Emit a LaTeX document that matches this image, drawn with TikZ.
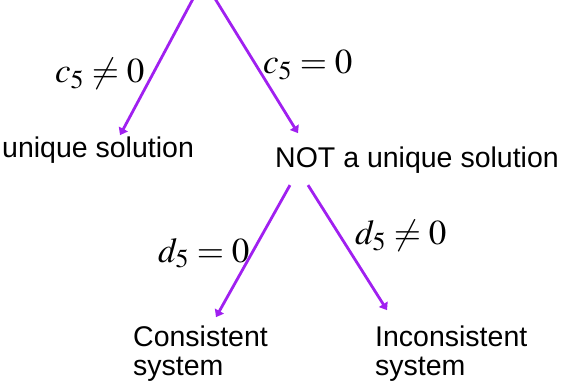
\documentclass[tikz,border=0pt]{standalone}
\usepackage{mathptmx}
\usepackage[no-math]{fontspec}
\setmainfont{Liberation Sans}
\usetikzlibrary{arrows.meta}

\definecolor{arrowviolet}{RGB}{160,32,240}

\tikzset{
  branch/.style={draw=arrowviolet, line width=2.8pt, -{Triangle[width=10pt,length=7pt]}},
  outcome/.style={inner sep=0pt, anchor=base west, align=left, font=\fontsize{28.5}{29}\selectfont},
  cond/.style={inner sep=0pt, anchor=base west, font=\fontsize{35}{37}\selectfont}
}

\begin{document}
\begin{tikzpicture}[x=1pt,y=-1pt]

\useasboundingbox (0,0) rectangle (563,385);

\coordinate (topL) at (194,-3);
\coordinate (topR) at (214,-3);

\node[outcome] (uniq) at (2,158) {unique solution};
\node[outcome] (notuniq) at (275,168) {NOT a unique solution};
\node[outcome] (cons) at (133,375) {Consistent\\system};
\node[outcome] (incons) at (375,375) {Inconsistent\\system};

\draw[branch] (topL) -- ([xshift=22pt,yshift=2pt]uniq.north);
\draw[branch] (topR) -- ([xshift=23pt,yshift=14pt]notuniq.north west);
\draw[branch] ([xshift=15pt,yshift=-11pt]notuniq.south west) -- ([xshift=83pt,yshift=8pt]cons.north west);
\draw[branch] ([xshift=33pt,yshift=-11pt]notuniq.south west) -- ([xshift=12pt,yshift=15pt]incons.north west);

\node[cond] (cne) at (55,83) {$c_5 \neq 0$};
\node[cond] (ceq) at (263,74) {$c_5 = 0$};
\node[cond] (deq) at (158,262) {$d_5 = 0$};
\node[cond] (dne) at (355,245) {$d_5 \neq 0$};

\end{tikzpicture}
\end{document}
